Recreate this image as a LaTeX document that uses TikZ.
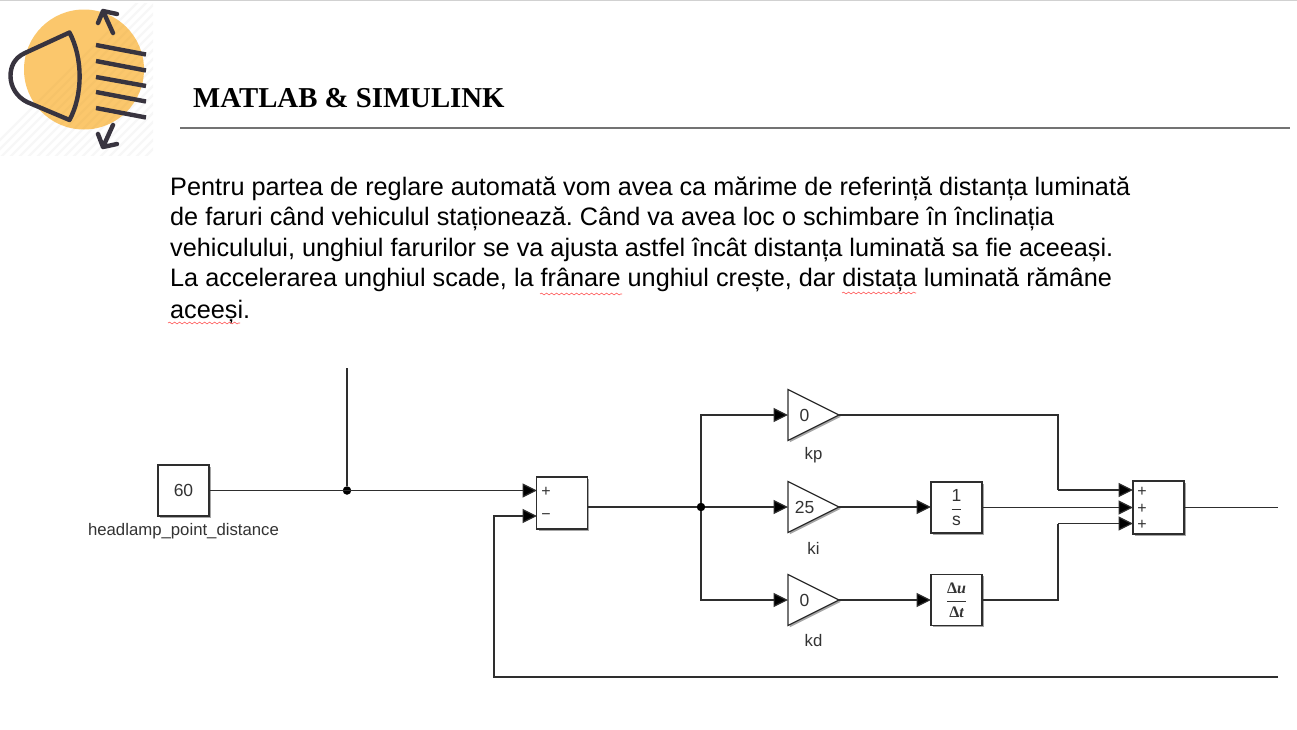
\documentclass[tikz,border=0pt]{standalone}
\usepackage{fix-cm}
\usepackage{fontspec}
\setmainfont{Liberation Sans}
\newfontfamily\titlefont{Liberation Serif}
\usetikzlibrary{arrows.meta,shapes.geometric,shadows,decorations.pathmorphing}
\definecolor{wire}{HTML}{2E2E2E}
\definecolor{iconink}{HTML}{38343F}
\definecolor{iconorange}{HTML}{FBC76C}
\definecolor{blocktext}{HTML}{333333}
\newcommand{\deltafrac}{$\displaystyle\frac{\mbox{\titlefont\bfseries\fontsize{16}{17}\selectfont Δ\itshape u}}{\mbox{\titlefont\bfseries\fontsize{16}{17}\selectfont Δ\itshape t}}$}
\frenchspacing
\tikzset{
  blockshadow/.style={drop shadow={shadow xshift=1.8pt,shadow yshift=-1.8pt,opacity=.35,fill=black}},
  blockbox/.style={draw=wire,line width=1.2pt,fill=white,inner sep=0pt,outer sep=0pt,blockshadow,text=blocktext,font=\fontsize{17.5}{20}\selectfont},
  gainshape/.style={isosceles triangle,isosceles triangle stretches,shape border rotate=0,draw=wire,line width=1.2pt,fill=white,inner sep=0pt,outer sep=0pt,minimum width=51pt,minimum height=51pt,anchor=lower side,blockshadow},
  gaintext/.style={text=blocktext,font=\fontsize{17.5}{20}\selectfont,inner sep=0pt},
  blocklabel/.style={text=blocktext,font=\fontsize{16.75}{20}\selectfont,inner sep=0pt},
  signtext/.style={text=blocktext,font=\fontsize{16}{18}\selectfont,inner sep=0pt},
  wireline/.style={draw=wire,line width=1.2pt},
  sig/.style={wireline,-{Triangle[length=14.5pt,width=14pt,fill=black]}},
  junction/.style={circle,fill=black,inner sep=0pt,minimum size=8.5pt,outer sep=0pt},
  bodyline/.style={anchor=base west,inner sep=0pt,font=\fontsize{25.25}{30}\selectfont},
  squiggle/.style={draw=red!65!white,line width=.6pt,decorate,decoration={snake,amplitude=.9pt,segment length=5pt}},
  iconline/.style={draw=iconink,line width=4.4pt,line cap=round,line join=round},
  rayline/.style={draw=iconink,line width=4.4pt},
}
\begin{document}
\begin{tikzpicture}[x=1pt,y=-1pt]
\useasboundingbox (0,0) rectangle (1297,729);
\fill[white] (0,0) rectangle (1297,729);
\fill[black!18] (0,0) rectangle (1297,1.2);
% icon background
\begin{scope}
  \clip (0,3) rectangle (153,155);
  \foreach \k in {0,9,...,320} {\draw[black,opacity=.03,line width=2.4pt] (\k-20,160) -- (\k+170-20,-10);}
\end{scope}
\fill[iconorange] (84,69.5) circle (60);
\begin{scope}
  \clip (84,69.5) circle (60);
  \foreach \k in {0,9,...,320} {\draw[black,opacity=.02,line width=2.4pt] (\k-20,160) -- (\k+170-20,-10);}
\end{scope}
\draw[iconline] (69.5,32.5) -- (25,53) .. controls (14,58) and (10.5,67) .. (10.5,76) .. controls (10.5,87) and (17,97) .. (27,102) -- (69.5,120) .. controls (83,95) and (83,58) .. (69.5,32.5);
\draw[rayline] (96,45) -- (146,54.5);
\draw[rayline] (96,61) -- (146,70.5);
\draw[rayline] (96,77) -- (146,86);
\draw[rayline] (96,92) -- (146,101.5);
\draw[rayline] (96,108) -- (146,117.5);
\draw[iconline] (113,33) -- (103,11) (98,23) -- (103,11) -- (117,14);
\draw[iconline] (113,125) -- (103,147) (98,134) -- (103,147) -- (117,144);
% title
\node[anchor=base west,inner sep=0pt,font=\titlefont\bfseries\fontsize{28.8}{32}\selectfont] (title) at (193,107) {MATLAB \& SIMULINK};
\coordinate (ruleL) at (180,128);
\coordinate (ruleR) at (1290,128);
\draw[black!55,line width=1.2pt] (ruleL) -- (ruleR);
% body
\node[bodyline] (l1) at (170,195) {Pentru partea de reglare automată vom avea ca mărime de referință distanța luminată};
\node[bodyline] (l2) at (170,225.5) {de faruri când vehiculul staționează. Când va avea loc o schimbare în înclinația};
\node[bodyline] (l3) at (170,256) {vehiculului, unghiul farurilor se va ajusta astfel încât distanța luminată sa fie aceeași.};
\node[bodyline] (l4) at (170,286) {La accelerarea unghiul scade, la frânare unghiul crește, dar distața luminată rămâne};
\node[bodyline] (l5) at (170,318) {aceeși.};
\draw[squiggle] (540,294) -- (622,294);
\draw[squiggle] (842,293) -- (916,293);
\draw[squiggle] (168,323) -- (240,323);
% blocks
\node[blockbox,minimum width=51pt,minimum height=51pt] (const) at (183.5,490.5) {60};
\node[blocklabel,anchor=base] (constlabel) at (183.5,535.5) {headlamp\_point\_distance};
\node[blockbox,minimum width=50.5pt,minimum height=52pt] (sumA) at (562,503) {};
\node[signtext] (sumAp) at (546,492) {+};
\node[signtext] (sumAm) at (546,517) {−};
\node[gainshape] (kp) at (788,415) {};
\node[gainshape] (ki) at (788,507) {};
\node[gainshape] (kd) at (788,600) {};
\node[gaintext] (kpv) at (804.5,415) {0};
\node[gaintext] (kiv) at (804.5,507) {25};
\node[gaintext] (kdv) at (804.5,600) {0};
\node[blocklabel] (kpl) at (813.5,455) {kp};
\node[blocklabel] (kil) at (813.5,548) {ki};
\node[blocklabel] (kdl) at (813.5,640) {kd};
\node[blockbox,minimum width=51pt,minimum height=51pt] (integ) at (956.5,507.5) {$\displaystyle\frac{\mbox{1}}{\mbox{s}}$};
\node[blockbox,minimum width=51pt,minimum height=51pt] (deriv) at (956.5,600) {\deltafrac};
\node[blockbox,minimum width=51pt,minimum height=53pt] (sumB) at (1158.5,507.5) {};
\node[signtext] (sumBa) at (1142,492) {+};
\node[signtext] (sumBb) at (1142,509) {+};
\node[signtext] (sumBc) at (1142,525) {+};
\node[junction] (j1) at (347,490.5) {};
\node[junction] (j2) at (701,507) {};
% ports and free ends
\coordinate (topend) at (347,368);
\coordinate (a1) at (537,490.5);
\coordinate (a2) at (537,516);
\coordinate (b1) at (1133,490);
\coordinate (b2) at (1133,507.5);
\coordinate (b3) at (1133,523.5);
\coordinate (outA) at (587,507);
\coordinate (outB) at (1278,507.5);
\coordinate (fbR) at (1278,677);
\coordinate (fbL) at (494,677);
\coordinate (fbU) at (494,516);
\coordinate (t1) at (701,415);
\coordinate (t2) at (701,600);
\coordinate (r1) at (1058,415);
\coordinate (r2) at (1058,490);
\coordinate (r3) at (1058,600);
\coordinate (r4) at (1058,523.5);
% wires
\draw[sig] (const.east) -- (a1);
\draw[wireline] (j1) -- (topend);
\draw[wireline] (outA) -- (j2);
\draw[sig] (j2) -- (ki.lower side);
\draw[sig] (j2) -- (t1) -- (kp.lower side);
\draw[sig] (j2) -- (t2) -- (kd.lower side);
\draw[wireline] (kp.apex) -- (r1) -- (r2);
\draw[sig] (r2) -- (b1);
\draw[sig] (ki.apex) -- (ki.apex -| integ.west);
\draw[sig] (kd.apex) -- (deriv.west);
\draw[sig] (integ.east) -- (b2);
\draw[wireline] (deriv.east) -- (r3) -- (r4);
\draw[sig] (r4) -- (b3);
\draw[wireline] (sumB.east) -- (outB);
\draw[sig] (fbR) -- (fbL) -- (fbU) -- (a2);
\end{tikzpicture}
\end{document}
